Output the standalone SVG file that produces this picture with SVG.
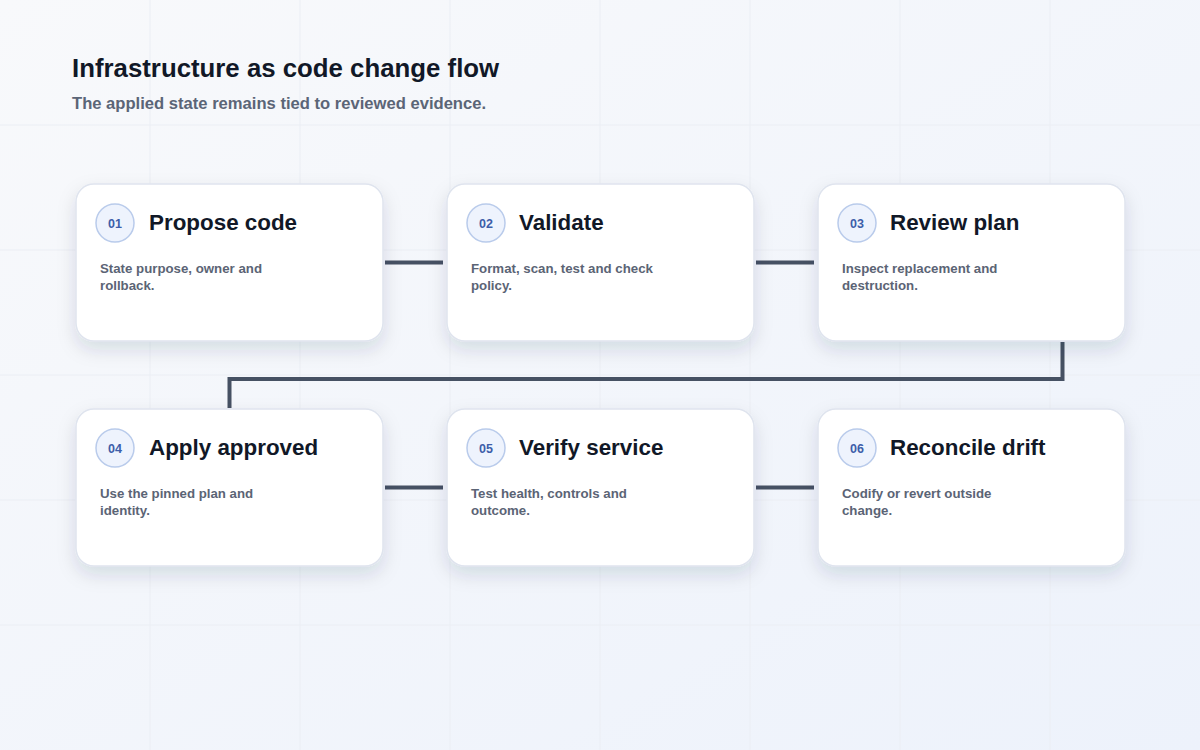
<svg xmlns="http://www.w3.org/2000/svg" width="1200" height="750" viewBox="0 0 1200 750">
  <defs>
    <linearGradient id="bg" x1="0" y1="0" x2="1" y2="1">
      <stop offset="0" stop-color="#f8f9fb"/>
      <stop offset="1" stop-color="#edf2fb"/>
    </linearGradient>
    <filter id="shadow" x="-20%" y="-20%" width="140%" height="160%">
      <feDropShadow dx="0" dy="8" stdDeviation="9" flood-color="#1e2a4a" flood-opacity="0.13"/>
    </filter>
    <style>
      .grid { stroke: #ebeef4; stroke-width: 1; }
      .card { fill: #ffffff; stroke: #dfe4ee; stroke-width: 1.5; filter: url(#shadow); }
      .badge { fill: #eef3fd; stroke: #b9cbeb; stroke-width: 1.5; }
      .num { font-family: "Liberation Sans", Arial, sans-serif; font-size: 12.5px; font-weight: 700; fill: #3d5ea9; text-anchor: middle; }
      .ttl { font-family: "Liberation Sans", Arial, sans-serif; font-size: 22.4px; font-weight: 700; fill: #111827; }
      .desc { font-family: "Liberation Sans", Arial, sans-serif; font-size: 13.25px; font-weight: 700; fill: #5b6475; }
      .conn { fill: none; stroke: #465163; stroke-width: 4; stroke-linejoin: miter; }
      .h1 { font-family: "Liberation Sans", Arial, sans-serif; font-size: 25.8px; font-weight: 700; fill: #111827; }
      .h2 { font-family: "Liberation Sans", Arial, sans-serif; font-size: 16.6px; font-weight: 700; fill: #5b6577; }
    </style>
  </defs>
  <rect width="1200" height="750" fill="url(#bg)"/>
  <g id="grid">
    <line class="grid" x1="150" y1="0" x2="150" y2="750"/>
    <line class="grid" x1="300" y1="0" x2="300" y2="750"/>
    <line class="grid" x1="450" y1="0" x2="450" y2="750"/>
    <line class="grid" x1="600" y1="0" x2="600" y2="750"/>
    <line class="grid" x1="750" y1="0" x2="750" y2="750"/>
    <line class="grid" x1="900" y1="0" x2="900" y2="750"/>
    <line class="grid" x1="1050" y1="0" x2="1050" y2="750"/>
    <line class="grid" x1="0" y1="125" x2="1200" y2="125"/>
    <line class="grid" x1="0" y1="250" x2="1200" y2="250"/>
    <line class="grid" x1="0" y1="375" x2="1200" y2="375"/>
    <line class="grid" x1="0" y1="500" x2="1200" y2="500"/>
    <line class="grid" x1="0" y1="625" x2="1200" y2="625"/>
  </g>
  <g id="header">
    <text class="h1" x="72" y="77">Infrastructure as code change flow</text>
    <text class="h2" x="72" y="109">The applied state remains tied to reviewed evidence.</text>
  </g>
  <g id="connectors">
    <line class="conn" x1="385" y1="262.5" x2="443" y2="262.5"/>
    <line class="conn" x1="756" y1="262.5" x2="814" y2="262.5"/>
    <path class="conn" d="M1062.5 342 V379 H229.5 V408"/>
    <line class="conn" x1="385" y1="487.5" x2="443" y2="487.5"/>
    <line class="conn" x1="756" y1="487.5" x2="814" y2="487.5"/>
  </g>
  <g id="node-01">
    <rect class="card" x="76" y="184" width="307" height="157" rx="18"/>
    <circle class="badge" cx="115" cy="223" r="19"/>
    <text class="num" x="115" y="227.5">01</text>
    <text class="ttl" x="149" y="229.5">Propose code</text>
    <text class="desc" x="100" y="273">State purpose, owner and</text>
    <text class="desc" x="100" y="290">rollback.</text>
  </g>
  <g id="node-02">
    <rect class="card" x="447" y="184" width="307" height="157" rx="18"/>
    <circle class="badge" cx="486" cy="223" r="19"/>
    <text class="num" x="486" y="227.5">02</text>
    <text class="ttl" x="519" y="229.5">Validate</text>
    <text class="desc" x="471" y="273">Format, scan, test and check</text>
    <text class="desc" x="471" y="290">policy.</text>
  </g>
  <g id="node-03">
    <rect class="card" x="818" y="184" width="307" height="157" rx="18"/>
    <circle class="badge" cx="857" cy="223" r="19"/>
    <text class="num" x="857" y="227.5">03</text>
    <text class="ttl" x="890" y="229.5">Review plan</text>
    <text class="desc" x="842" y="273">Inspect replacement and</text>
    <text class="desc" x="842" y="290">destruction.</text>
  </g>
  <g id="node-04">
    <rect class="card" x="76" y="409" width="307" height="157" rx="18"/>
    <circle class="badge" cx="115" cy="448" r="19"/>
    <text class="num" x="115" y="452.5">04</text>
    <text class="ttl" x="149" y="454.5">Apply approved</text>
    <text class="desc" x="100" y="498">Use the pinned plan and</text>
    <text class="desc" x="100" y="515">identity.</text>
  </g>
  <g id="node-05">
    <rect class="card" x="447" y="409" width="307" height="157" rx="18"/>
    <circle class="badge" cx="486" cy="448" r="19"/>
    <text class="num" x="486" y="452.5">05</text>
    <text class="ttl" x="519" y="454.5">Verify service</text>
    <text class="desc" x="471" y="498">Test health, controls and</text>
    <text class="desc" x="471" y="515">outcome.</text>
  </g>
  <g id="node-06">
    <rect class="card" x="818" y="409" width="307" height="157" rx="18"/>
    <circle class="badge" cx="857" cy="448" r="19"/>
    <text class="num" x="857" y="452.5">06</text>
    <text class="ttl" x="890" y="454.5">Reconcile drift</text>
    <text class="desc" x="842" y="498">Codify or revert outside</text>
    <text class="desc" x="842" y="515">change.</text>
  </g>
</svg>
